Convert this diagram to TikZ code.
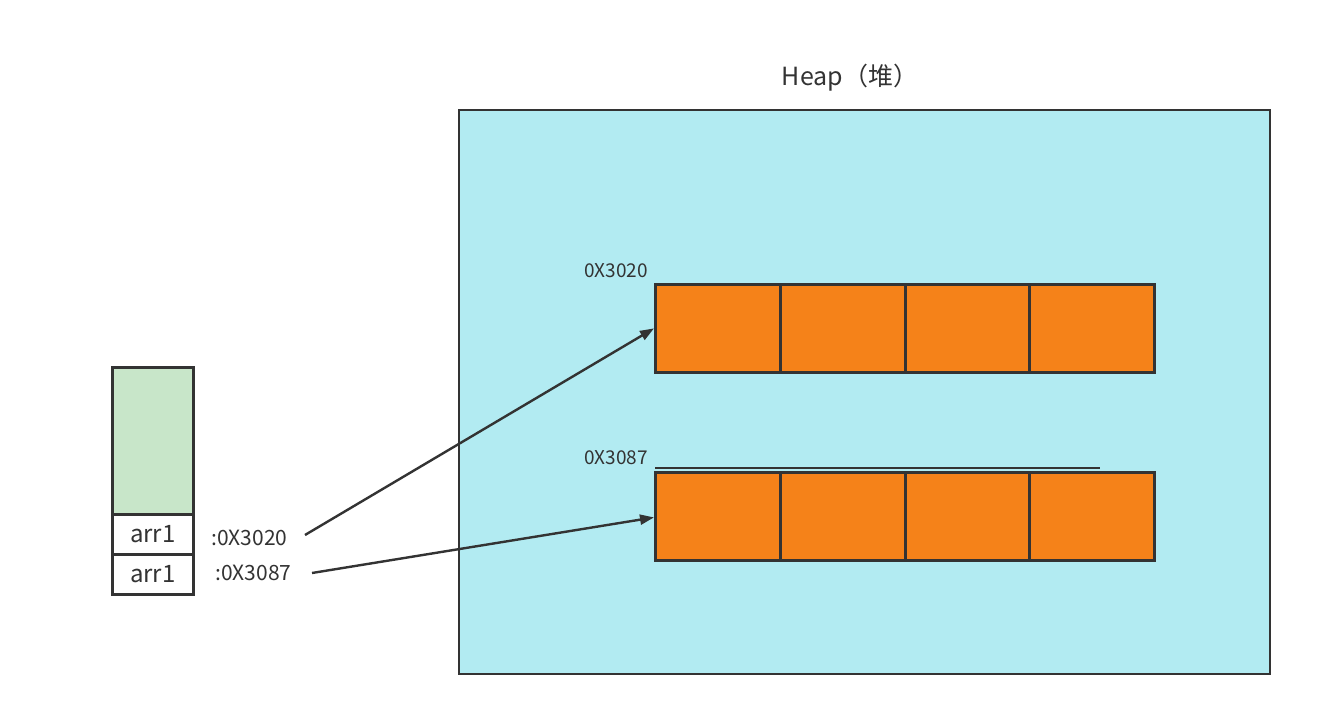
\documentclass[tikz,border=0pt]{standalone}
\usepackage{fontspec}
\setmainfont{Noto Sans CJK SC}
\usetikzlibrary{arrows.meta}
\definecolor{heapfill}{HTML}{B2EBF2}
\definecolor{cellfill}{HTML}{F58219}
\definecolor{stackfill}{HTML}{C8E6C9}
\definecolor{ink}{HTML}{333333}
\tikzset{
  px/.style={x=1pt,y=-1pt},
  cellbox/.style={draw=ink,line width=2.8pt,fill=cellfill,minimum width=125pt,minimum height=88pt,inner sep=0pt,anchor=north west},
  slotbox/.style={draw=ink,line width=2.6pt,fill=white,minimum width=81pt,minimum height=40pt,inner sep=0pt,anchor=north west,font=\fontsize{24}{28}\selectfont,text=ink},
  addr/.style={font=\fontsize{19}{22}\selectfont,text=ink,inner sep=0pt},
  ptr/.style={draw=ink,line width=2.4pt,-{Triangle[length=14pt,width=10pt]}}
}
\begin{document}
\begin{tikzpicture}[px]
\useasboundingbox (0,0) rectangle (1343,719);
% heap
\node[draw=ink,line width=2.4pt,fill=heapfill,minimum width=811pt,minimum height=564pt,inner sep=0pt,anchor=north west] (heap) at (458,109) {};
\node[font=\fontsize{25}{28}\selectfont,text=ink,anchor=base] (title) at (850,86) {Heap（堆）};
% rows
\foreach \i/\x in {1/654,2/779,3/904,4/1028} {
  \node[cellbox] (a\i) at (\x,283) {};
  \node[cellbox] (b\i) at (\x,471) {};
}
\coordinate (bl) at (655,468);
\coordinate (br) at (1100,468);
\draw[ink,line width=1.8pt] (bl) -- (br);
\node[addr,anchor=base west] (la) at (584,277) {0X3020};
\node[addr,anchor=base west] (lb) at (584,464) {0X3087};
% stack
\node[draw=ink,line width=2.6pt,fill=stackfill,minimum width=81pt,minimum height=147pt,inner sep=0pt,anchor=north west] (stack) at (111,366) {};
\node[slotbox] (s1) at (111,513) {arr1};
\node[slotbox] (s2) at (111,553) {arr1};
\node[addr,font=\fontsize{21}{24}\selectfont,anchor=base west] (p1) at (211,545) {:0X3020};
\node[addr,font=\fontsize{21}{24}\selectfont,anchor=base west] (p2) at (215,580) {:0X3087};
% pointers
\coordinate (p1s) at (305,535);
\coordinate (p2s) at (312,573);
\draw[ptr] (p1s) -- (a1.west);
\draw[ptr] (p2s) -- ([yshift=-1pt]b1.west);
\end{tikzpicture}
\end{document}
